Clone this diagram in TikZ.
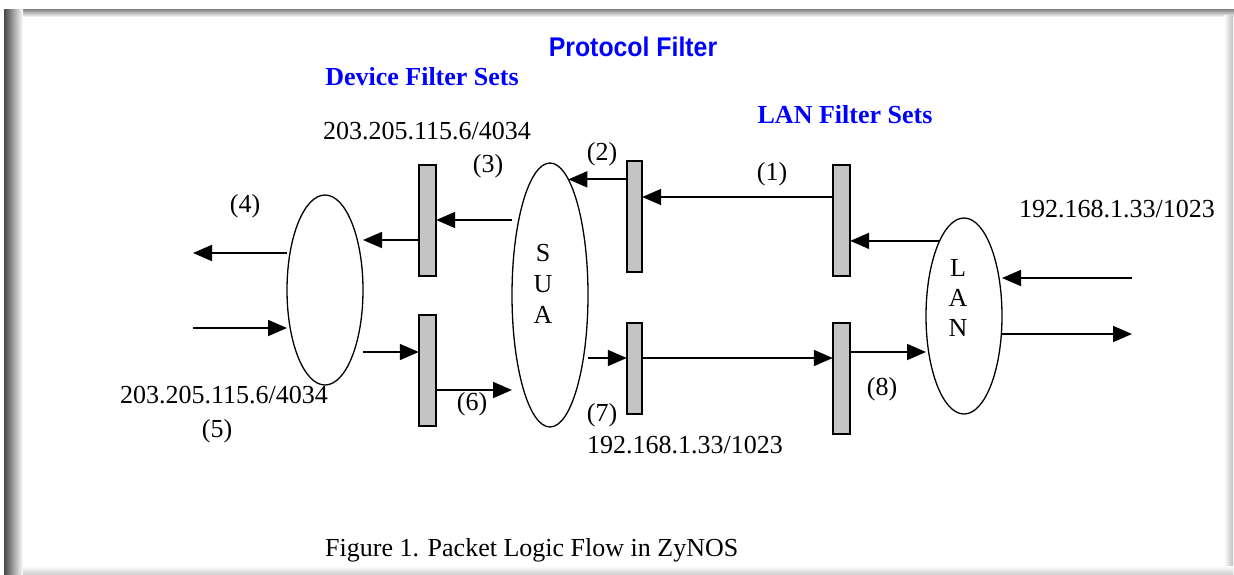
\documentclass[tikz,border=0pt]{standalone}
\usepackage{fontspec}
\usepackage{graphicx}
\setmainfont{Liberation Serif}
\newfontfamily\blsans{Liberation Sans}
\usetikzlibrary{arrows.meta,shapes.geometric}
\definecolor{barfill}{RGB}{196,196,196}
\definecolor{titleblue}{RGB}{0,0,255}
\begin{document}
\begin{tikzpicture}[x=1pt,y=-1pt,
  ell/.style={draw, ellipse, line width=1.3pt, inner sep=0pt, outer sep=0pt},
  bar/.style={draw, rectangle, fill=barfill, line width=1.6pt, inner sep=0pt, outer sep=0pt},
  flow/.style={line width=1.8pt, -{Triangle[length=19pt,width=16pt]}},
  lbl/.style={font=\fontsize{26}{28}\selectfont, inner sep=0pt, anchor=base},
  ttl/.style={text=titleblue, inner sep=0pt, anchor=base, font=\fontsize{26}{28}\selectfont\bfseries},
  stack/.style={inner sep=0pt, align=center},
]
% background and frame
\fill[white] (0,0) rectangle (1234,574);
\useasboundingbox (0,0) rectangle (1234,574);
\shade[top color=black!50, bottom color=white] (4,9) rectangle (1234,17);
\shade[left color=black!72, right color=white] (4,9) rectangle (23,574);
\shade[left color=white, right color=black!25] (1224,15) rectangle (1233,574);
\shade[top color=white, bottom color=black!18] (23,566) rectangle (1233,574);

% ellipses
\node[ell, minimum width=76pt, minimum height=190pt] (lft) at (325,290) {};
\node[ell, minimum width=76pt, minimum height=264pt] (sua) at (550,295) {};
\node[ell, minimum width=76pt, minimum height=196pt] (lan) at (964,316) {};
\node[stack, font=\fontsize{26}{31}\selectfont] (suatxt) at (543,284) {S\\U\\A};
\node[stack, font=\fontsize{26}{30}\selectfont] (lantxt) at (958,298) {L\\A\\N};

% filter bars
\node[bar, minimum width=17.4pt, minimum height=111.4pt] (barA) at (427.5,220.5) {};
\node[bar, minimum width=17.4pt, minimum height=111.4pt] (barB) at (427.5,370.5) {};
\node[bar, minimum width=15.4pt, minimum height=111.4pt] (barC) at (634.5,216.5) {};
\node[bar, minimum width=15.4pt, minimum height=91.4pt] (barD) at (634.5,368.5) {};
\node[bar, minimum width=17.4pt, minimum height=111.4pt] (barE) at (841.5,220.5) {};
\node[bar, minimum width=17.4pt, minimum height=111.4pt] (barF) at (841.5,378.5) {};

% free ends
\coordinate (inR) at (1132,278);
\coordinate (outR) at (1132,334);
\coordinate (outL) at (193,253);
\coordinate (inL) at (193,328);

% outgoing path (right to left)
\draw[flow] (inR) -- (lan.east |- inR);
\draw[flow] (lan.108) -- (barE.east |- lan.108);
\draw[flow] (barE.west |- 0,197) -- (barC.east |- 0,197);
\draw[flow] (barC.west |- sua.81) -- (sua.81);
\draw[flow] (sua.west |- 0,220) -- (barA.east |- 0,220);
\draw[flow] (barA.west |- 0,240) -- (lft.east |- 0,240);
\draw[flow] (lft.west |- outL) -- (outL);

% incoming path (left to right)
\draw[flow] (inL) -- (lft.west |- inL);
\draw[flow] (lft.east |- 0,352) -- (barB.west |- 0,352);
\draw[flow] (barB.east |- 0,390) -- (sua.west |- 0,390);
\draw[flow] (sua.east |- 0,358) -- (barD.west |- 0,358);
\draw[flow] (barD.east |- 0,358) -- (barF.west |- 0,358);
\draw[flow] (barF.east |- 0,352) -- (lan.west |- 0,352);
\draw[flow] (lan.east |- outR) -- (outR);

% titles
\node[ttl, font=\fontsize{27}{29}\selectfont\blsans\bfseries] (tproto) at (633,56) {\scalebox{0.92}[1]{Protocol Filter}};
\node[ttl] (tdev) at (422,85.5) {Device Filter Sets};
\node[ttl] (tlan) at (845,123.5) {LAN Filter Sets};

% labels
\node[lbl] (ip1) at (427,139) {203.205.115.6/4034};
\node[lbl] (ip2) at (1117,217.5) {192.168.1.33/1023};
\node[lbl] (ip3) at (224,403) {203.205.115.6/4034};
\node[lbl] (ip4) at (685,453) {192.168.1.33/1023};
\node[lbl] (n1) at (772,180) {(1)};
\node[lbl] (n2) at (602,160) {(2)};
\node[lbl] (n3) at (488,172) {(3)};
\node[lbl] (n4) at (245,212) {(4)};
\node[lbl] (n5) at (217,437) {(5)};
\node[lbl] (n6) at (472,410) {(6)};
\node[lbl] (n7) at (602,421) {(7)};
\node[lbl] (n8) at (882,395) {(8)};
\node[lbl, anchor=base west] (cap) at (325,556) {Figure 1. Packet Logic Flow in ZyNOS};
\end{tikzpicture}
\end{document}
